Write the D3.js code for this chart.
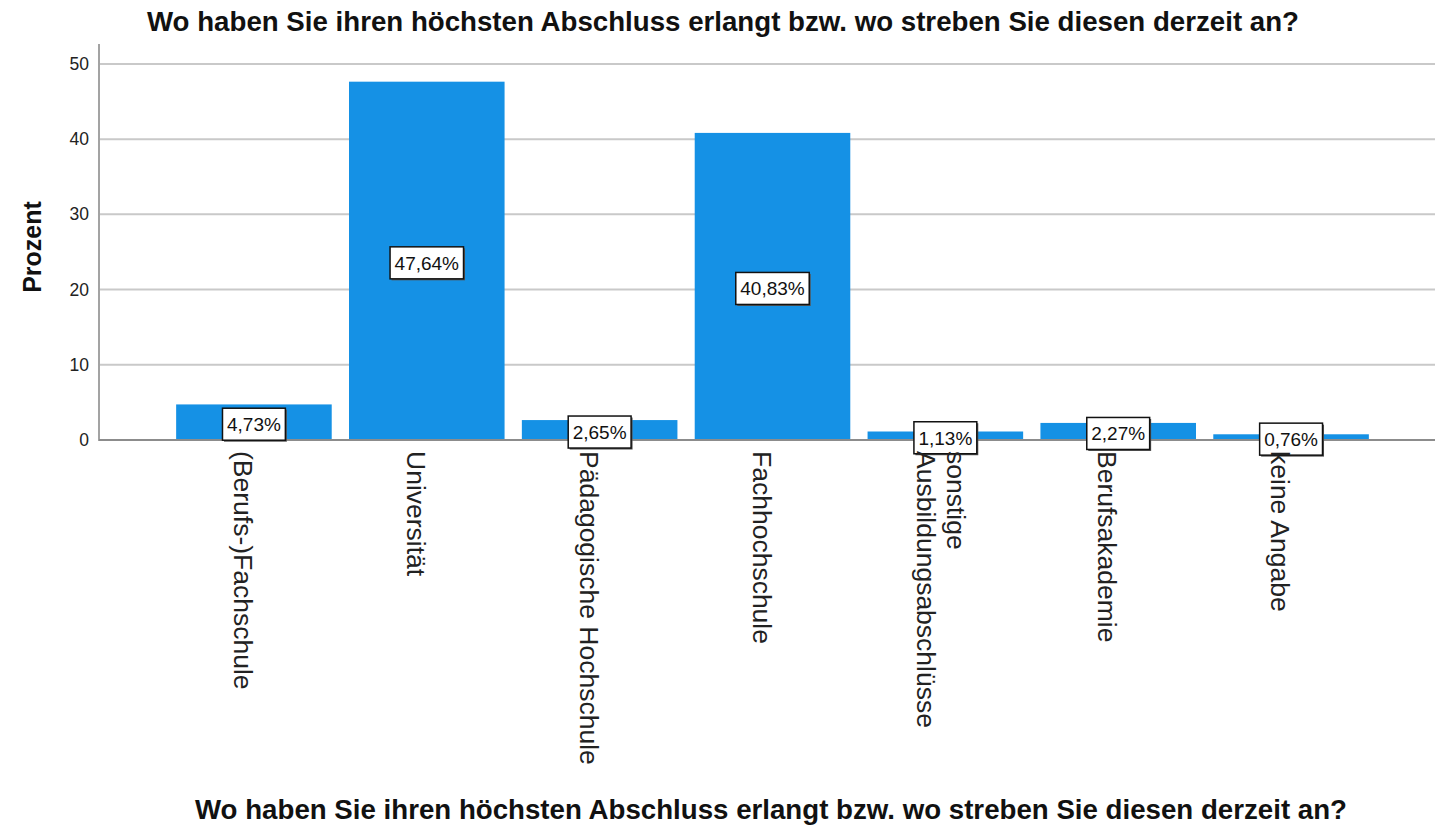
<!DOCTYPE html>
<meta charset="utf-8">
<style>
  body { margin: 0; background: #fff; }
  svg { display: block; font-family: "Liberation Sans", Arial, sans-serif; }
</style>
<svg id="chart" width="1435" height="827"></svg>
<script src="https://d3js.org/d3.v7.min.js"></script>
<script>

var titel = "Wo haben Sie ihren höchsten Abschluss erlangt bzw. wo streben Sie diesen derzeit an?";
var kategorien = [
  ["(Berufs-)Fachschule"],
  ["Universität"],
  ["Pädagogische Hochschule"],
  ["Fachhochschule"],
  ["sonstige", "Ausbildungsabschlüsse"],
  ["Berufsakademie"],
  ["keine Angabe"]
];
var prozente = [4.73, 47.64, 2.65, 40.83, 1.13, 2.27, 0.76];
var yTicks = [0, 10, 20, 30, 40, 50];

var svg = d3.select("#chart"),
    width = +svg.attr("width"),
    height = +svg.attr("height");

var x0 = 99, yTop = 44;

var x = d3.scaleBand()
    .domain(d3.range(prozente.length))
    .range([167.5, 1377.5])
    .paddingInner(0.1)
    .paddingOuter(0.05);

var y = d3.scaleLinear()
    .domain([0, 52.65])
    .range([440, yTop]);

// gridlines
svg.append("g")
  .selectAll("line")
  .data(yTicks.filter(function(d) { return d > 0; }))
  .enter().append("line")
    .attr("x1", x0).attr("x2", width)
    .attr("y1", function(d) { return y(d); })
    .attr("y2", function(d) { return y(d); })
    .attr("stroke", "#c9c9c9")
    .attr("stroke-width", 2);

// y axis (d3 axis, restyled)
var yAxis = svg.append("g")
    .attr("transform", "translate(" + x0 + ",0)")
    .call(d3.axisLeft(y).tickValues(yTicks).tickSize(0).tickPadding(10));
yAxis.select(".domain").remove();
yAxis.selectAll("text")
    .attr("font-size", "17.5px")
    .attr("font-family", "Liberation Sans, Arial, sans-serif")
    .attr("fill", "#222");

svg.append("line")
    .attr("x1", x0).attr("x2", x0)
    .attr("y1", yTop).attr("y2", y(0) + 1)
    .attr("stroke", "#a3a3a3")
    .attr("stroke-width", 2);

// bars
svg.append("g")
  .selectAll("rect")
  .data(prozente)
  .enter().append("rect")
    .attr("x", function(d, i) { return x(i); })
    .attr("y", function(d) { return y(d); })
    .attr("width", x.bandwidth())
    .attr("height", function(d) { return y(0) - y(d); })
    .attr("fill", "#1591e5");

// baseline
svg.append("line")
    .attr("x1", x0).attr("x2", width)
    .attr("y1", y(0)).attr("y2", y(0))
    .attr("stroke", "#8c8c8c")
    .attr("stroke-width", 2);

// value labels with boxes
var fmt = function(v) { return d3.format(".2f")(v).replace(".", ",") + "%"; };

var lab = svg.append("g")
  .selectAll("g")
  .data(prozente)
  .enter().append("g")
    .attr("transform", function(d, i) {
      return "translate(" + (x(i) + x.bandwidth() / 2) + "," + (y(d / 2) + 2) + ")";
    });

lab.append("text")
    .attr("text-anchor", "middle")
    .attr("dy", "0.36em")
    .attr("font-size", "19px")
    .attr("fill", "#111")
    .text(fmt)
    .each(function() {
      var w = this.getComputedTextLength() + 9;
      var g = d3.select(this.parentNode);
      g.insert("rect", "text")
          .attr("x", -w / 2 + 1.5).attr("y", -16 + 1.5)
          .attr("width", w).attr("height", 32)
          .attr("fill", "#555");
      g.insert("rect", "text")
          .attr("x", -w / 2).attr("y", -16)
          .attr("width", w).attr("height", 32)
          .attr("fill", "#fff")
          .attr("stroke", "#111")
          .attr("stroke-width", 1.5);
    });

// category labels, rotated
var cat = svg.append("g")
  .selectAll("text")
  .data(kategorien)
  .enter().append("text")
    .attr("transform", function(d, i) {
      return "translate(" + (x(i) + x.bandwidth() / 2) + ",451) rotate(90)";
    })
    .attr("font-size", "26.5px")
    .attr("fill", "#222");

cat.selectAll("tspan")
  .data(function(d) { return d.map(function(s, k) { return {s: s, k: k, n: d.length}; }); })
  .enter().append("tspan")
    .attr("x", 0)
    .attr("y", function(t) { return 20 - (t.n - 1) * 22 + t.k * 30; })
    .text(function(t) { return t.s; });

// y title
svg.append("text")
    .attr("transform", "translate(41,247) rotate(-90)")
    .attr("text-anchor", "middle")
    .attr("font-size", "25px")
    .attr("font-weight", "bold")
    .attr("fill", "#111")
    .text("Prozent");

// titles
function titelText(cx, by) {
  svg.append("text")
      .attr("x", cx - 576).attr("y", by)
      .attr("textLength", 1152)
      .attr("lengthAdjust", "spacingAndGlyphs")
      .attr("font-size", "27.5px")
      .attr("font-weight", "bold")
      .attr("fill", "#111")
      .text(titel);
}
titelText(723, 31);
titelText(771, 819);

</script>
